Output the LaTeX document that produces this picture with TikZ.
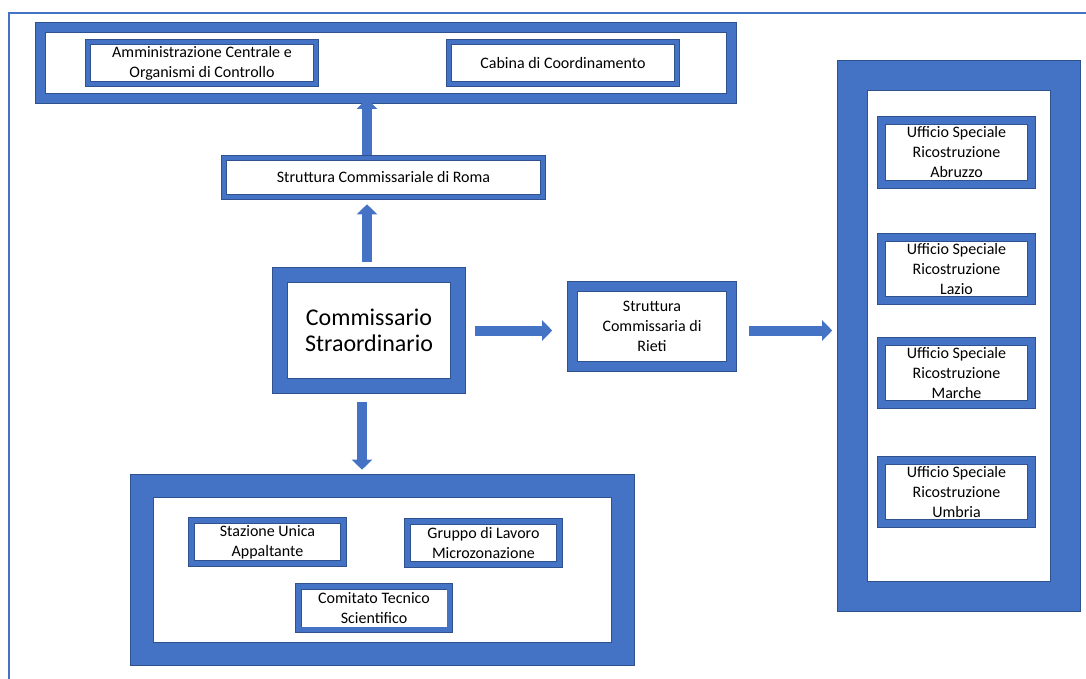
\documentclass[tikz,border=0pt]{standalone}
\usepackage{fontspec}
\setmainfont{Carlito}
\usetikzlibrary{arrows.meta,calc}
\definecolor{bfill}{HTML}{4472C4}
\definecolor{bedge}{HTML}{2F528F}
\begin{document}
\begin{tikzpicture}[x=1pt,y=-1pt,
  bx/.style={rectangle, draw=bedge, line width=0.6pt, double=bfill, double distance=#1,
    fill=white, inner sep=0pt, align=center, font=\fontsize{16}{20}\selectfont},
  conn/.style={draw=bfill, line width=10pt, -{Triangle[width=20pt,length=10pt]}},
  frameline/.style={draw=bfill, line width=1.5pt}]
\useasboundingbox (0,0) rectangle (1086,679);
\draw[frameline] (1086,13) -- (9,13) -- (9,679);

% top container
\node[bx=9.8pt, minimum width=691pt, minimum height=71pt] (tc) at (386,63) {};
\node[bx=4.8pt, minimum width=228pt, minimum height=42pt] (amm) at (202,63)
  {Amministrazione Centrale e\\Organismi di Controllo};
\node[bx=4.8pt, minimum width=228pt, minimum height=42pt] (cab) at (563,63)
  {Cabina di Coordinamento};

\node[bx=4.8pt, minimum width=319pt, minimum height=39pt] (roma) at (383.5,177.5)
  {Struttura Commissariale di Roma};

\node[bx=14.8pt, minimum width=178pt, minimum height=111pt,
  font=\fontsize{24}{26}\selectfont] (comm) at (369,330.5)
  {Commissario\\Straordinario};

\node[bx=9.8pt, minimum width=159pt, minimum height=80pt] (rieti) at (652,326.5)
  {Struttura\\Commissaria di\\Rieti};

% right container
\node[bx=29.8pt, minimum width=213pt, minimum height=521pt] (rc) at (959,336) {};
\node[bx=7.8pt, minimum width=150pt, minimum height=64pt] (abr) at (956.5,152.5)
  {Ufficio Speciale\\Ricostruzione\\Abruzzo};
\node[bx=7.8pt, minimum width=150pt, minimum height=63pt] (laz) at (956.5,269)
  {Ufficio Speciale\\Ricostruzione\\Lazio};
\node[bx=7.8pt, minimum width=150pt, minimum height=63pt] (mar) at (956.5,373)
  {Ufficio Speciale\\Ricostruzione\\Marche};
\node[bx=7.8pt, minimum width=150pt, minimum height=63pt] (umb) at (956.5,492)
  {Ufficio Speciale\\Ricostruzione\\Umbria};

% bottom container
\node[bx=22.8pt, minimum width=481pt, minimum height=168pt] (bc) at (382.5,570) {};
\node[bx=5.8pt, minimum width=152pt, minimum height=43pt] (staz) at (267.5,542)
  {Stazione Unica\\Appaltante};
\node[bx=5.8pt, minimum width=152pt, minimum height=43pt] (grup) at (483.5,543)
  {Gruppo di Lavoro\\Microzonazione};
\node[bx=5.3pt, minimum width=151.5pt, minimum height=43.5pt] (comi) at (374,608)
  {Comitato Tecnico\\Scientifico};

% connectors
\draw[conn, shorten <=3pt] ($(roma.north -| comm)+(-2,0)$) -- ($(tc.south -| comm)+(-2,0)$);
\draw[conn, shorten <=13pt, shorten >=7pt] ($(comm.north)+(-2,0)$) -- ($(roma.south -| comm)+(-2,0)$);
\draw[conn, shorten <=17pt, shorten >=20pt] (comm.east) -- (rieti.west |- comm.east);
\draw[conn, shorten <=17pt, shorten >=20pt] (rieti.east |- comm.east) -- (rc.west |- comm.east);
\draw[conn, shorten <=16pt, shorten >=16pt] ($(comm.south)+(-7,0)$) -- ($(comm.south |- bc.north)+(-7,0)$);
\end{tikzpicture}
\end{document}
